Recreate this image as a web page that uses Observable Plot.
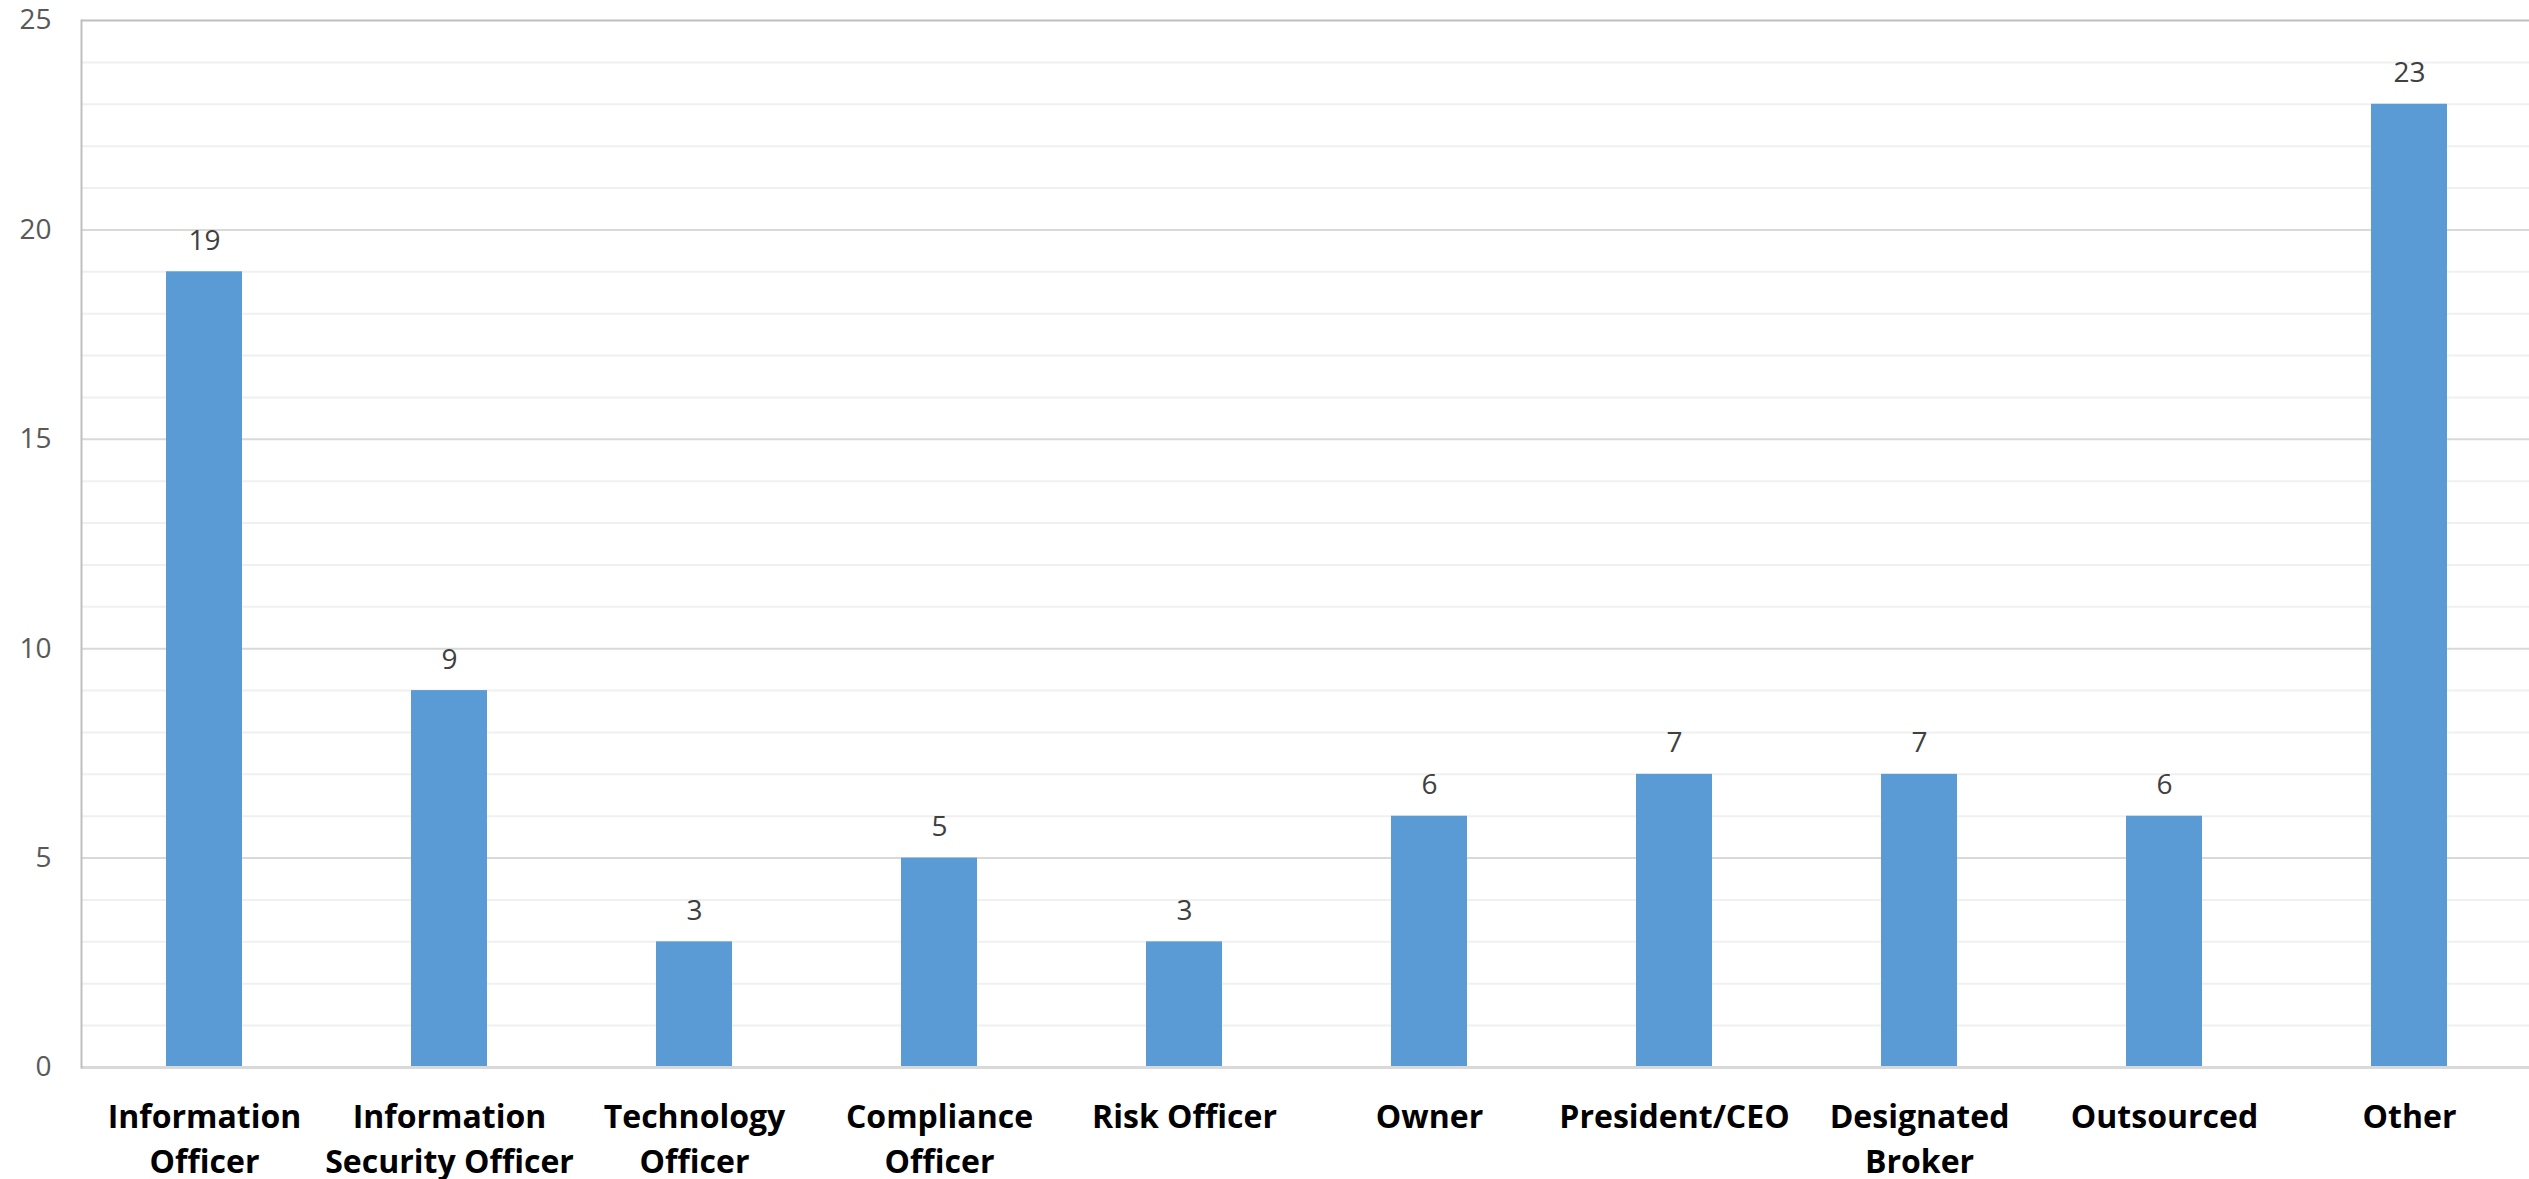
<!DOCTYPE html>
<html>
<head>
<meta charset="utf-8">
<script src="https://cdn.jsdelivr.net/npm/d3@7"></script>
<script src="https://cdn.jsdelivr.net/npm/@observablehq/plot@0.6"></script>
<style>
  html, body { margin: 0; padding: 0; background: #fff; }
  #chart svg { display: block; }
</style>
</head>
<body>
<div id="chart"></div>
<script>
// Who is responsible for the firm's information security program
const roles = [
  "Information Officer",
  "Information Security Officer",
  "Technology Officer",
  "Compliance Officer",
  "Risk Officer",
  "Owner",
  "President/CEO",
  "Designated Broker",
  "Outsourced",
  "Other"
];
const counts = [19, 9, 3, 5, 3, 6, 7, 7, 6, 23];
// Two-line axis labels for each role
const roleLabels = [
  "Information\nOfficer",
  "Information\nSecurity Officer",
  "Technology\nOfficer",
  "Compliance\nOfficer",
  "Risk Officer",
  "Owner",
  "President/CEO",
  "Designated\nBroker",
  "Outsourced",
  "Other"
];
const yMajorTicks = [0, 5, 10, 15, 20, 25];
const yMinorTicks = d3.range(0, 26);

const data = roles.map((role, i) => ({role, count: counts[i]}));
const labelOf = new Map(roles.map((r, i) => [r, roleLabels[i]]));

const W = 2529, H = 1179;

const chart = Plot.plot({
  width: W,
  height: H,
  marginLeft: 81,
  marginRight: 0,
  marginTop: 20,
  marginBottom: 112,
  style: {background: "#fff", fontFamily: "'Open Sans', sans-serif", overflow: "visible"},
  x: {domain: roles, range: [81, 2531], paddingInner: 0.69, paddingOuter: 0.345, align: 0.5},
  y: {domain: [0, 25], range: [1067, 20]},
  marks: [
    Plot.ruleY(yMinorTicks.filter(v => v % 5 !== 0), {stroke: "#f0f0f0", strokeWidth: 2}),
    Plot.ruleY(yMajorTicks.filter(v => v > 0 && v < 25), {stroke: "#d9d9d9", strokeWidth: 2}),
    Plot.ruleY([25], {stroke: "#bfbfbf", strokeWidth: 2}),
    Plot.barY(data, {x: "role", y: "count", fill: "#5b9bd5"}),
    Plot.ruleY([0], {stroke: "#d9d9d9", strokeWidth: 3}),
    Plot.frame({anchor: "left", stroke: "#bfbfbf", strokeWidth: 2}),
    Plot.text(data, {
      x: "role", y: "count", text: d => String(d.count),
      dy: -31, fill: "#404040", fontSize: 28
    }),
    Plot.axisY({
      ticks: yMajorTicks, tickSize: 0, tickPadding: 30,
      fontSize: 28, color: "#595959", textAnchor: "end", label: null
    }),
    Plot.axisX({
      tickSize: 0, tickPadding: 28, fontSize: 32, fontWeight: "bold",
      color: "#000", lineHeight: 1.42, tickFormat: r => labelOf.get(r), label: null
    })
  ]
});
document.getElementById("chart").appendChild(chart);
</script>
</body>
</html>
